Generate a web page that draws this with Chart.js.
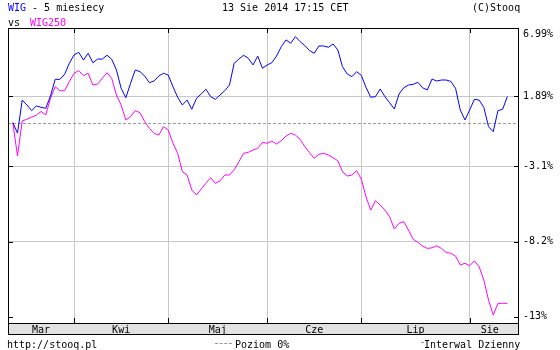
<!DOCTYPE html>
<html>
<head>
<meta charset="utf-8">
<script src="https://cdn.jsdelivr.net/npm/chart.js@4.4.1/dist/chart.umd.min.js"></script>
<style>
html, body { margin: 0; padding: 0; background: #fff; }
#wrap { position: relative; width: 560px; height: 350px; font-family: "DejaVu Sans Mono", monospace; font-size: 10px; line-height: 10px; color: #000; }
#wrap .t { position: absolute; white-space: pre; }
canvas { position: absolute; left: 0; top: 0; }
</style>
</head>
<body>
<div id="wrap">
  <canvas id="chart" width="560" height="350"></canvas>
  <span class="t" style="left:8px;top:3px"><span style="color:#0000ff">WIG</span> - 5 miesiecy</span>
  <span class="t" style="left:222px;top:3px">13 Sie 2014 17:15 CET</span>
  <span class="t" style="left:472px;top:3px">(C)Stooq</span>
  <span class="t" style="left:8px;top:18px">vs</span>
  <span class="t" style="left:30px;top:18px;color:#ff00ff">WIG250</span>
  <span class="t" style="left:7px;top:340px">http://stooq.pl</span>
  <span class="t" style="left:215px;top:343px;width:17px;border-top:1px dashed #999"></span>
  <span class="t" style="left:235px;top:340px">Poziom 0%</span>
  <span class="t" style="left:421px;top:342px;width:3px;border-top:1px solid #999"></span>
  <span class="t" style="left:424px;top:340px">Interwal Dzienny</span>
</div>
<script>
// session months (index of first session of each month) and labels
const MONTHS = ['Mar', 'Kwi', 'Maj', 'Cze', 'Lip', 'Sie'];
const MONTH_STARTS = [13, 33, 54, 74, 97];
const MONTH_MIDS = [6, 23, 43.5, 64, 85.5, 101.25];

// right axis ticks (% change)
const Y_TICKS = [6.99, 1.89, -3.1, -8.2, -13];
const Y_LABELS = ['6.99%', '1.89%', '-3.1%', '-8.2%', '-13%'];

// daily % change since 13 Mar 2014
const WIG = [0, -0.75, 1.63, 1.27, 0.86, 1.20, 1.10, 1.03, 1.93, 3.15,
  3.15, 3.52, 4.35, 4.97, 5.17, 4.59, 5.10, 4.39, 4.66, 4.66,
  4.95, 4.64, 3.85, 2.49, 1.80, 2.86, 3.85, 3.72, 3.40, 2.90,
  3.03, 3.40, 3.60, 3.47, 2.61, 1.83, 1.27, 1.63, 0.96, 1.76,
  2.07, 2.42, 1.88, 1.68, 2.00, 2.31, 2.73, 4.35, 4.66, 4.95,
  4.72, 4.22, 4.89, 3.97, 4.22, 4.39, 4.89, 5.60, 6.11, 5.86,
  6.36, 5.98, 5.68, 5.30, 5.10, 5.65, 5.65, 5.55, 5.80, 5.35,
  4.09, 3.55, 3.35, 3.72, 3.45, 2.55, 1.83, 1.88, 2.44, 1.88,
  1.43, 0.98, 2.07, 2.53, 2.73, 2.78, 2.93, 2.53, 2.37, 3.17,
  3.03, 3.10, 3.10, 3.00, 2.49, 0.91, 0.19, 0.91, 1.68, 1.63,
  1.10, -0.29, -0.65, 0.86, 0.96, 1.89];

const WIG250 = [0, -2.37, 0.12, 0.24, 0.40, 0.53, 0.80, 0.55, 1.76, 2.61,
  2.31, 2.31, 2.98, 3.60, 3.80, 3.42, 3.60, 2.73, 2.80, 3.22,
  3.64, 3.22, 2.00, 1.27, 0.19, 0.43, 0.86, 0.71, 0.07, -0.41,
  -0.77, -0.89, -0.29, -0.53, -1.47, -2.18, -3.46, -3.69, -4.72, -5.06,
  -4.65, -4.26, -3.87, -4.26, -4.10, -3.69, -3.69, -3.34, -2.77, -2.18,
  -2.11, -1.95, -1.83, -1.41, -1.47, -1.33, -1.52, -1.29, -0.96, -0.77,
  -0.89, -1.19, -1.71, -2.14, -2.53, -2.25, -2.18, -2.30, -2.49, -2.70,
  -3.46, -3.76, -3.69, -3.39, -3.98, -5.20, -6.08, -5.45, -5.74, -6.08,
  -6.53, -7.35, -6.97, -6.86, -7.42, -8.03, -8.23, -8.48, -8.63, -8.59,
  -8.46, -8.63, -8.89, -8.95, -9.13, -9.71, -9.60, -9.76, -9.44, -9.82,
  -10.68, -11.95, -12.89, -12.16, -12.16, -12.16];

const ZERO_LEVEL = 0;
const X_MIN = -1.02, X_MAX = 107.47;
const Y_MIN = 86.61, Y_MAX = 107.02; // index levels, start = 100
const BAND_H = 11;
const GRID = '#c8c8c8';
const FONT = { family: 'DejaVu Sans Mono', size: 10 };

const toPoints = arr => arr.map((p, i) => ({ x: i, y: 100 + p }));

const frame = {
  id: 'frame',
  beforeDraw(chart) {
    const { ctx, chartArea: a } = chart;
    ctx.save();
    ctx.fillStyle = '#e2e2e2';
    ctx.fillRect(a.left, a.bottom, a.right - a.left, BAND_H);
    ctx.restore();
  },
  beforeDatasetsDraw(chart) {
    const { ctx, chartArea: a, scales } = chart;
    const y = Math.round(scales.y.getPixelForValue(100 + ZERO_LEVEL)) + 0.5;
    ctx.save();
    ctx.strokeStyle = '#999';
    ctx.lineWidth = 1;
    ctx.setLineDash([3, 2]);
    ctx.beginPath();
    ctx.moveTo(a.left, y);
    ctx.lineTo(a.right, y);
    ctx.stroke();
    ctx.restore();
  },
  afterDraw(chart) {
    const { ctx, chartArea: a, scales } = chart;
    ctx.save();
    ctx.strokeStyle = '#000';
    ctx.lineWidth = 1;
    ctx.strokeRect(a.left + 0.5, a.top + 0.5, a.right - a.left - 1, a.bottom + BAND_H - a.top);
    ctx.beginPath();
    ctx.moveTo(a.left, a.bottom + 0.5);
    ctx.lineTo(a.right, a.bottom + 0.5);
    // small inner tick marks
    scales.y.ticks.forEach(t => {
      const y = Math.round(scales.y.getPixelForValue(t.value)) + 0.5;
      ctx.moveTo(a.left, y); ctx.lineTo(a.left + 5, y);
      ctx.moveTo(a.right - 5, y); ctx.lineTo(a.right, y);
    });
    scales.x.ticks.forEach(t => {
      const x = Math.round(scales.x.getPixelForValue(t.value)) + 0.5;
      ctx.moveTo(x, a.top); ctx.lineTo(x, a.top + 5);
      ctx.moveTo(x, a.bottom - 5); ctx.lineTo(x, a.bottom);
    });
    ctx.stroke();
    ctx.restore();
  }
};

new Chart(document.getElementById('chart').getContext('2d'), {
  type: 'line',
  data: {
    datasets: [
      { label: 'WIG', data: toPoints(WIG), borderColor: '#0000ff', borderWidth: 1, pointRadius: 0, tension: 0, fill: false },
      { label: 'WIG250', data: toPoints(WIG250), borderColor: '#ff00ff', borderWidth: 1, pointRadius: 0, tension: 0, fill: false }
    ]
  },
  options: {
    responsive: false,
    animation: false,
    devicePixelRatio: 1,
    layout: { padding: { left: 8, top: 28, right: 0, bottom: 16 } },
    plugins: { legend: { display: false }, tooltip: { enabled: false } },
    scales: {
      x: {
        type: 'linear', position: 'bottom', min: X_MIN, max: X_MAX,
        afterBuildTicks: s => { s.ticks = MONTH_STARTS.map(v => ({ value: v })); },
        afterFit: s => { s.height = 0; },
        grid: { color: GRID, drawTicks: false },
        border: { display: false },
        ticks: { display: false }
      },
      xm: {
        type: 'linear', position: 'bottom', min: X_MIN, max: X_MAX,
        afterBuildTicks: s => { s.ticks = MONTH_MIDS.map(v => ({ value: v })); },
        afterFit: s => { s.height = BAND_H; },
        grid: { display: false, drawTicks: false },
        border: { display: false },
        ticks: { autoSkip: false, maxRotation: 0, padding: 1, color: '#000', font: FONT, callback: (v, i) => MONTHS[i] }
      },
      y: {
        type: 'logarithmic', position: 'right', min: Y_MIN, max: Y_MAX,
        afterBuildTicks: s => { s.ticks = Y_TICKS.map(v => ({ value: 100 + v })); },
        afterFit: s => { s.width = 41; },
        grid: {
          color: c => (c.index > 0 && c.index < Y_TICKS.length - 1) ? GRID : 'rgba(0,0,0,0)',
          drawTicks: false
        },
        border: { display: false },
        ticks: {
          autoSkip: false, padding: 4, color: '#000', font: FONT,
          callback: (v, i) => i === 0 ? ['', Y_LABELS[0]] : Y_LABELS[i]
        }
      }
    }
  },
  plugins: [frame]
});
</script>
</body>
</html>
